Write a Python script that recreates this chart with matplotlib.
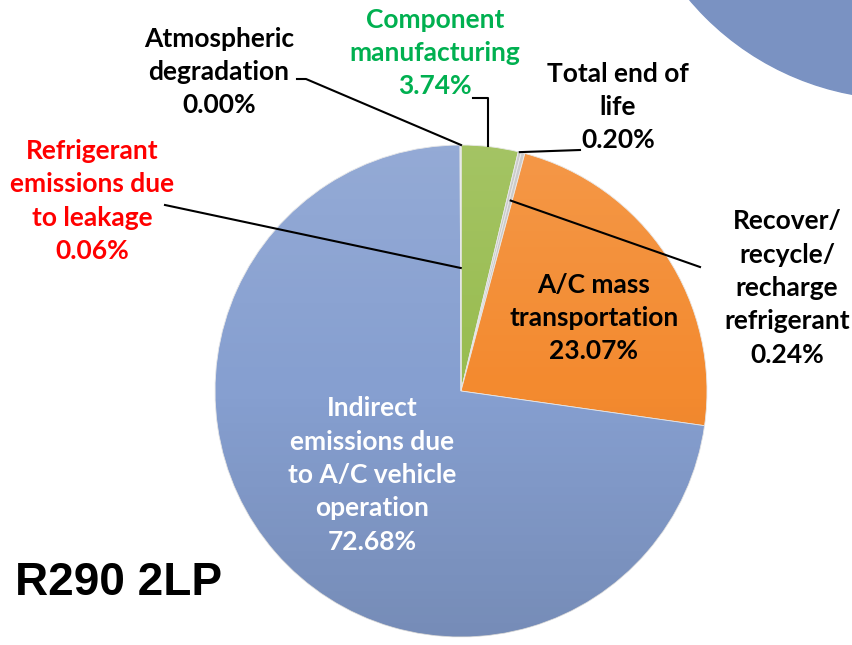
import numpy as np
import matplotlib.pyplot as plt
from matplotlib.patches import Circle

# Slices, clockwise from 12 o'clock
names = ['Component\nmanufacturing', 'Total end of\nlife',
         'Recover/\nrecycle/\nrecharge\nrefrigerant', 'A/C mass\ntransportation',
         'Indirect\nemissions due\nto A/C vehicle\noperation',
         'Refrigerant\nemissions due\nto leakage', 'Atmospheric\ndegradation']
shares = [3.74, 0.20, 0.24, 23.07, 72.68, 0.06, 0.00]
colors = ['#98BC4F', '#C6C6C6', '#C6C6C6', '#F38A2F', '#869FD0', '#869FD0', '#869FD0']
text_colors = ['#00B050', 'black', 'black', 'black', 'white', '#FF0000', 'black']
title = 'R290 2LP'

W, H = 853, 645
cx, cy, r = 461, H - 391, 246

fig = plt.figure(figsize=(W / 100, H / 100), dpi=100)
ax = fig.add_axes([0, 0, 1, 1])

# piece of the neighbouring chart in the corner
ax.add_patch(Circle((903, H + 180), 279, color='#7A92C2', zorder=1))

wedges, _ = ax.pie(shares, colors=colors, startangle=90, counterclock=False,
                   center=(cx, cy), radius=r, frame=True,
                   wedgeprops=dict(edgecolor='#E8E8E8', linewidth=0.6))
ax.set_xlim(0, W)
ax.set_ylim(0, H)
ax.set_aspect('equal')
ax.axis('off')

# soft vertical shading over the pie
t = np.linspace(0, 1, 200)
grad = np.zeros((200, 1, 4))
grad[:, 0, 0] = grad[:, 0, 1] = grad[:, 0, 2] = np.where(t < 0.5, 1.0, 0.0)
grad[:, 0, 3] = np.abs(t - 0.5) * 0.24
im = ax.imshow(grad, extent=(cx - r, cx + r, cy - r, cy + r), origin='upper',
               aspect='auto', zorder=3)
im.set_clip_path(Circle((cx, cy), r, transform=ax.transData))
ax.set_xlim(0, W)
ax.set_ylim(0, H)


def anchor(i, frac):
    w = wedges[i]
    a = np.radians((w.theta1 + w.theta2) / 2)
    return cx + frac * r * np.cos(a), cy + frac * r * np.sin(a)


# label centres (pixels from top-left)
label_xy = [(435, 53), (618, 107), (787, 288), (594, 318), (372, 475), (92, 201), (219, 72)]
font = ['Lato', 'DejaVu Sans']
for i, (nm, v) in enumerate(zip(names, shares)):
    x, y = label_xy[i]
    ax.text(x, H - y, f'{nm}\n{v:.2f}%', ha='center', va='center',
            color=text_colors[i], fontsize=19, fontweight='bold',
            family=font, linespacing=1.47, zorder=5)

# leader lines: label side points, then point on the slice
leaders = {0: ([(473, 98), (488, 98)], 1.0),
           1: ([(580, 150)], 1.0),
           2: ([(700, 267)], 0.8),
           5: ([(165, 205)], 0.5),
           6: ([(297, 79), (306, 79)], 1.0)}
for i, (pts, frac) in leaders.items():
    xs = [p[0] for p in pts]
    ys = [H - p[1] for p in pts]
    ex, ey = anchor(i, frac)
    if i == 0:
        ex = xs[-1]
        ey = cy + np.sqrt(r ** 2 - (ex - cx) ** 2)
    xs.append(ex)
    ys.append(ey)
    ax.plot(xs, ys, color='black', linewidth=1.5, zorder=4)

ax.text(15, H - 583, title, ha='left', va='center', fontsize=33,
        fontweight='bold', family='Liberation Sans', zorder=5)

fig.savefig('out.png', dpi=100)
